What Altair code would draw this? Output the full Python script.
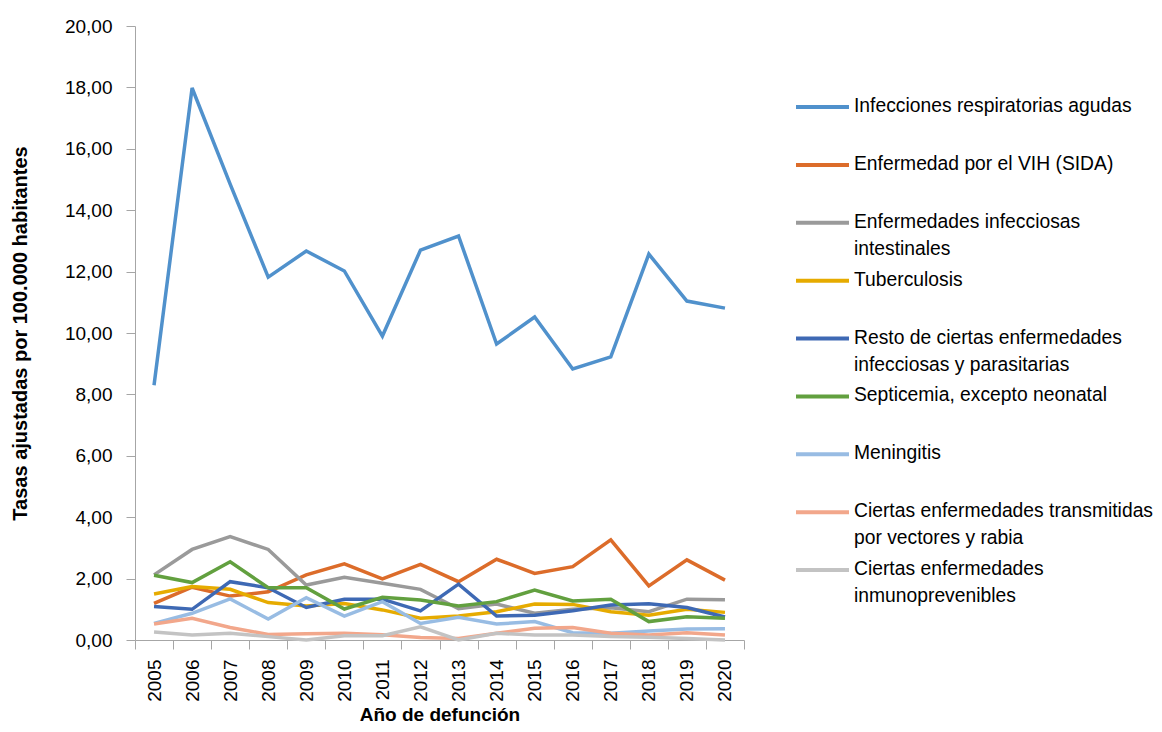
import altair as alt
import pandas as pd

years = [str(y) for y in range(2005, 2021)]

series_names = [
    "Infecciones respiratorias agudas",
    "Enfermedad por el VIH (SIDA)",
    "Enfermedades infecciosas intestinales",
    "Tuberculosis",
    "Resto de ciertas enfermedades infecciosas y parasitarias",
    "Septicemia, excepto neonatal",
    "Meningitis",
    "Ciertas enfermedades transmitidas por vectores y rabia",
    "Ciertas enfermedades inmunoprevenibles",
]
legend_labels = [
    "Infecciones respiratorias agudas",
    "Enfermedad por el VIH (SIDA)",
    "Enfermedades infecciosas\nintestinales",
    "Tuberculosis",
    "Resto de ciertas enfermedades\ninfecciosas y parasitarias",
    "Septicemia, excepto neonatal",
    "Meningitis",
    "Ciertas enfermedades transmitidas\npor vectores y rabia",
    "Ciertas enfermedades\ninmunoprevenibles",
]
colors = ["#5091CC", "#DC6C2A", "#9A9A9A", "#E6AB00", "#3E69B4",
          "#62A03F", "#98BCE3", "#F2A78B", "#C3C3C3"]

ira = [8.30, 17.98, 14.85, 11.82, 12.67, 12.02, 9.90, 12.70, 13.16, 9.64, 10.52, 8.83, 9.22, 12.57, 11.04, 10.81]
vih = [1.19, 1.72, 1.43, 1.57, 2.12, 2.48, 1.99, 2.46, 1.90, 2.63, 2.17, 2.39, 3.26, 1.76, 2.61, 1.95]
intest = [2.12, 2.95, 3.37, 2.95, 1.79, 2.04, 1.85, 1.65, 1.02, 1.17, 0.87, 1.00, 1.05, 0.92, 1.33, 1.31]
tb = [1.50, 1.74, 1.65, 1.22, 1.11, 1.19, 0.98, 0.71, 0.78, 0.92, 1.17, 1.16, 0.92, 0.81, 1.00, 0.90]
resto = [1.09, 1.00, 1.90, 1.70, 1.06, 1.33, 1.33, 0.95, 1.82, 0.78, 0.81, 0.95, 1.14, 1.18, 1.06, 0.75]
septi = [2.11, 1.87, 2.55, 1.70, 1.70, 1.01, 1.39, 1.30, 1.11, 1.25, 1.63, 1.27, 1.33, 0.60, 0.76, 0.71]
menin = [0.54, 0.87, 1.34, 0.68, 1.38, 0.78, 1.25, 0.54, 0.74, 0.52, 0.60, 0.24, 0.22, 0.29, 0.36, 0.37]
vect = [0.52, 0.71, 0.41, 0.18, 0.20, 0.22, 0.17, 0.08, 0.05, 0.22, 0.38, 0.41, 0.22, 0.16, 0.24, 0.16]
inmuno = [0.26, 0.16, 0.22, 0.11, 0.00, 0.14, 0.14, 0.43, 0.00, 0.22, 0.16, 0.16, 0.11, 0.09, 0.05, 0.00]

values = [ira, vih, intest, tb, resto, septi, menin, vect, inmuno]

rows = []
for name, vals in zip(series_names, values):
    for yr, v in zip(years, vals):
        rows.append({"anio": yr, "serie": name, "tasa": v})
df = pd.DataFrame(rows)
leg = pd.DataFrame({"serie": series_names, "label": legend_labels})

FONT = "Liberation Sans, Arial, sans-serif"
AXIS_GRAY = "#a6a6a6"

color_scale = alt.Scale(domain=series_names, range=colors)

lines = alt.Chart(df).mark_line(strokeWidth=3.5).encode(
    x=alt.X(
        "anio:N", sort=years,
        scale=alt.Scale(type="band", paddingInner=0, paddingOuter=0),
        axis=alt.Axis(
            title="Año de defunción", labelAngle=-90, tickBand="extent",
            labelFontSize=19, labelPadding=10, tickSize=9,
            titleFontSize=19, titleFontWeight="bold", titlePadding=4,
        ),
    ),
    y=alt.Y(
        "tasa:Q",
        scale=alt.Scale(domain=[0, 20], nice=False),
        axis=alt.Axis(
            title="Tasas ajustadas por 100.000 habitantes",
            values=list(range(0, 21, 2)),
            labelExpr="replace(format(datum.value, '.2f'), '.', ',')",
            labelFontSize=19, labelPadding=14, tickSize=9,
            titleFontSize=20, titleFontWeight="bold", titlePadding=34,
        ),
    ),
    color=alt.Color("serie:N", scale=color_scale, legend=None),
)

leg_y = alt.Y("serie:N", sort=series_names,
              scale=alt.Scale(type="point", range=[81, 544], padding=0),
              axis=None)

leg_rule = alt.Chart(leg).mark_rule(strokeWidth=4).encode(
    y=leg_y,
    x=alt.value(661), x2=alt.value(714),
    color=alt.Color("serie:N", scale=color_scale, legend=None),
)

leg_text = alt.Chart(leg).mark_text(
    align="left", baseline="top", dy=-10, lineBreak="\n",
    fontSize=19.3, font=FONT, lineHeight=27, color="black",
).encode(
    y=leg_y,
    x=alt.value(719),
    text="label:N",
)

chart = alt.layer(lines, leg_rule, leg_text).resolve_scale(
    y="independent"
).properties(
    width=609, height=614,
    padding={"left": 127, "top": 18, "right": 410, "bottom": 84},
    autosize=alt.AutoSizeParams(type="none"),
).configure_view(
    stroke=None
).configure_axis(
    grid=False, domainColor=AXIS_GRAY, tickColor=AXIS_GRAY,
    labelColor="black", titleColor="black",
    labelFont=FONT, titleFont=FONT,
)

chart.save("out.html", embed_options={"renderer": "svg", "actions": False})
